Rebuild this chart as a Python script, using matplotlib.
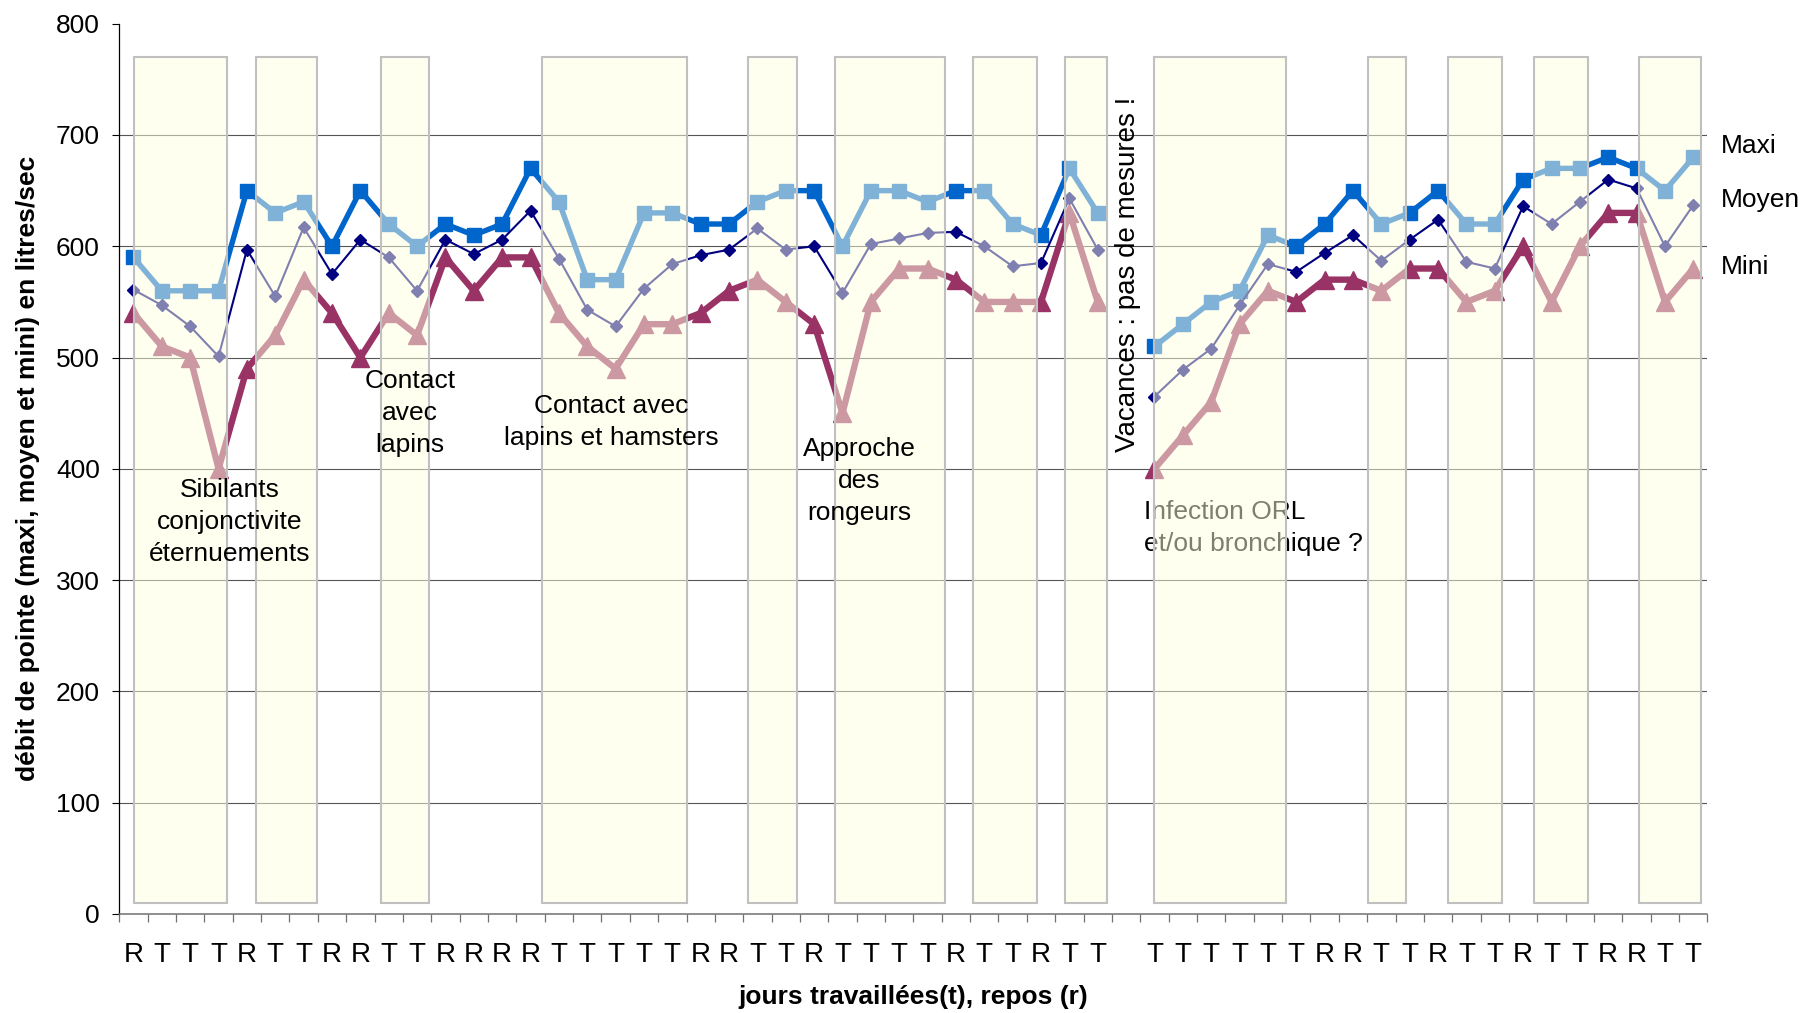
import numpy as np
import matplotlib
matplotlib.use("Agg")
import matplotlib.pyplot as plt
from matplotlib.patches import Rectangle

plt.rcParams['font.family'] = ['Liberation Sans', 'DejaVu Sans']

nan = np.nan

# Day type for each measurement day: T = travail, R = repos ("" = no measure)
day_types = ("R T T T R T T R R T T R R R R T T T T T R R T T R T T T T R T T R T T".split()
             + [""]
             + "T T T T T T R R T T R T T R T T R R T T".split())

# Peak expiratory flow (litres/sec)
maxi = [590, 560, 560, 560, 650, 630, 640, 600, 650, 620, 600, 620, 610, 620, 670,
        640, 570, 570, 630, 630, 620, 620, 640, 650, 650, 600, 650, 650, 640, 650,
        650, 620, 610, 670, 630, nan,
        510, 530, 550, 560, 610, 600, 620, 650, 620, 630, 650, 620, 620, 660, 670,
        670, 680, 670, 650, 680]
moyen = [561, 547, 528, 501, 597, 555, 617, 575, 606, 590, 560, 606, 593, 606, 632,
         589, 543, 528, 562, 584, 592, 597, 616, 597, 600, 558, 602, 607, 612, 613,
         600, 582, 585, 643, 597, nan,
         465, 489, 508, 547, 584, 577, 594, 610, 587, 606, 624, 586, 580, 636, 620,
         640, 660, 652, 600, 637]
mini = [540, 510, 500, 400, 490, 520, 570, 540, 500, 540, 520, 590, 560, 590, 590,
        540, 510, 490, 530, 530, 540, 560, 570, 550, 530, 450, 550, 580, 580, 570,
        550, 550, 550, 630, 550, nan,
        400, 430, 460, 530, 560, 550, 570, 570, 560, 580, 580, 550, 560, 600, 550,
        600, 630, 630, 550, 580]

# Working periods highlighted on the chart (day index of start and end)
period_start = [0.03, 4.32, 8.73, 14.39, 21.68, 24.74, 29.61, 32.84, 36.0, 43.52, 46.36, 49.4, 53.1]
period_end = [3.31, 6.48, 10.43, 19.50, 23.40, 28.62, 31.86, 34.31, 40.64, 44.87, 48.26, 51.3, 55.27]
period_low, period_high = 10, 770

y_ticks = [0, 100, 200, 300, 400, 500, 600, 700, 800]

fig = plt.figure(figsize=(18.05, 10.13), dpi=100)
ax = fig.add_axes([0.06609, 0.09773, 0.87989, 0.87887])

x = np.arange(len(day_types))
ax.set_xlim(-0.5, len(day_types) - 0.5)
ax.set_ylim(0, 800)

# horizontal grid
for yv in y_ticks:
    if 0 < yv < 800:
        ax.axhline(yv, color='#555555', lw=0.8, zorder=1)

ax.plot(x, maxi, color='#0066CC', lw=3.9, marker='s', ms=9.5, mec='#0066CC',
        solid_joinstyle='round', zorder=3, label='Maxi')
ax.plot(x, mini, color='#993366', lw=4.6, marker='^', ms=12.5, mec='#993366',
        solid_joinstyle='round', zorder=3, label='Mini')
ax.plot(x, moyen, color='#000080', lw=1.5, marker='D', ms=6.5, mec='#000080',
        solid_joinstyle='round', zorder=4, label='Moyen')

# note partly hidden by the shaded period
ax.text(35.63, 347, "Infection ORL\net/ou bronchique ?", ha='left', va='center',
        fontsize=19, linespacing=1.42, zorder=4)

for s, e in zip(period_start, period_end):
    ax.add_patch(Rectangle((s, period_low), e - s, period_high - period_low,
                           facecolor=(1.0, 1.0, 0.878, 0.5), edgecolor='#C0C0C0',
                           lw=1.5, zorder=5))

notes = [
    (3.40, 352, "Sibilants\nconjonctivite\néternuements"),
    (9.75, 450, "Contact\navec\nlapins"),
    (16.84, 442, "Contact avec\nlapins et hamsters"),
    (25.58, 389, "Approche\ndes\nrongeurs"),
]
for nx, ny, s in notes:
    ax.text(nx, ny, s, ha='center', va='center', fontsize=19, linespacing=1.42, zorder=7)

ax.text(35.07, 575, "Vacances : pas de mesures !", rotation=90, ha='center', va='center',
        fontsize=20, zorder=7)

# series names at the right end
for name, yv in (("Maxi", 690), ("Moyen", 642), ("Mini", 581)):
    ax.text(55.98, yv, name, ha='left', va='center', fontsize=19, clip_on=False)

# axes styling
for side in ('top', 'right'):
    ax.spines[side].set_visible(False)
ax.spines['left'].set_color('black')
ax.spines['left'].set_linewidth(0.9)
ax.spines['bottom'].set_color('#707070')
ax.spines['bottom'].set_linewidth(1.1)

ax.set_yticks(y_ticks)
ax.tick_params(axis='y', direction='out', length=5, width=0.8, labelsize=19, pad=9,
               color='black')

ax.set_xticks(np.arange(-0.5, len(day_types), 1.0))
ax.set_xticklabels([])
ax.set_xticks(x, minor=True)
ax.set_xticklabels(day_types, minor=True)
ax.tick_params(axis='x', which='major', direction='out', length=6, width=0.9, color='#707070')
ax.tick_params(axis='x', which='minor', length=0, pad=20, labelsize=20)

ax.set_xlabel("jours travaillées(t), repos (r)", fontsize=19, fontweight='bold')
ax.xaxis.set_label_coords(0.5, -0.0932)
ax.xaxis.label.set_va('center')
ax.set_ylabel("débit de pointe (maxi, moyen et mini) en litres/sec", fontsize=19,
              fontweight='bold')
ax.yaxis.set_label_coords(-0.0577, 0.5)
ax.yaxis.label.set_va('center')

fig.savefig("out.png", dpi=100)
